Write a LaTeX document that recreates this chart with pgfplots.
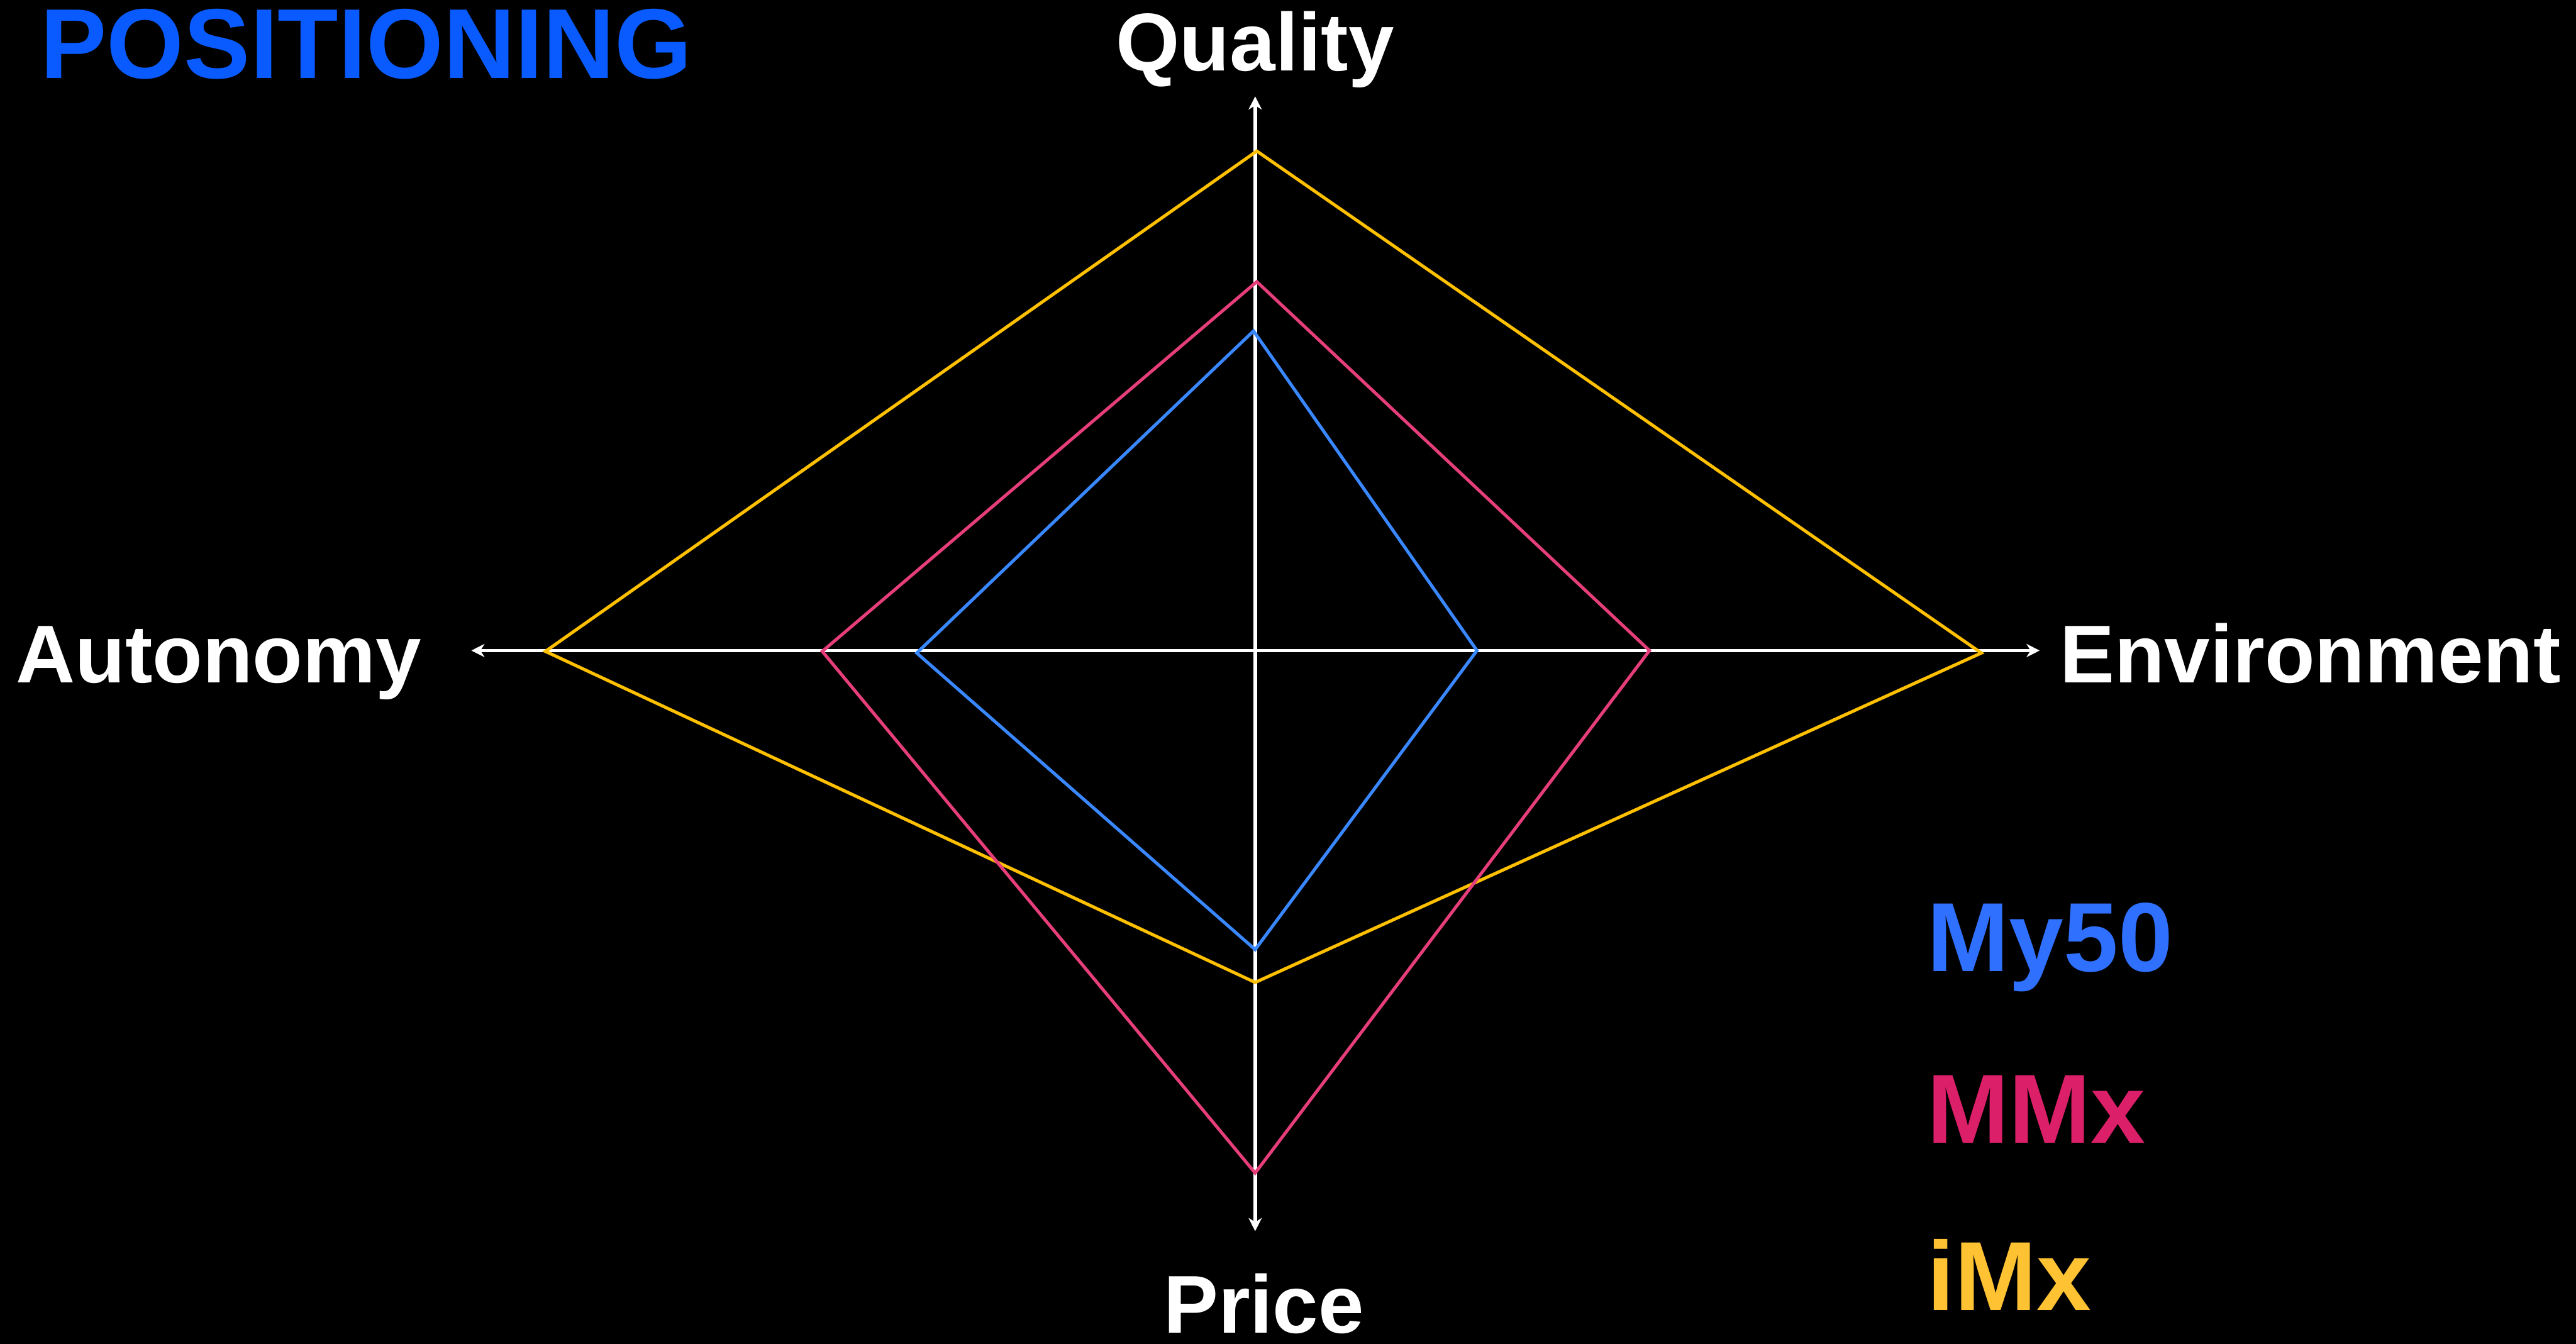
\documentclass[border=0pt]{standalone}
\usepackage{pgfplots}
\pgfplotsset{compat=1.18}
\usepackage{fontspec}
\setmainfont{Liberation Sans}
\usetikzlibrary{arrows.meta}
\definecolor{titleblue}{HTML}{0A5BFF}
\definecolor{lineyellow}{HTML}{FFC000}
\definecolor{linepink}{HTML}{E63E7A}
\definecolor{lineblue}{HTML}{3A88FF}
\definecolor{txtblue}{HTML}{3070FF}
\definecolor{txtpink}{HTML}{DC1F69}
\definecolor{txtgold}{HTML}{FFC233}
\begin{document}
\begin{tikzpicture}
\fill[black] (0,0) rectangle (156.8mm,81.8mm);
\begin{axis}[at={(0,0)}, anchor=south west,
  scale only axis, width=156.8mm, height=81.8mm,
  xmin=-764, xmax=804, ymin=-422, ymax=396,
  hide axis, clip=false]
% axes with arrows
\addplot[white, line width=0.6pt, -{Stealth[length=0.8mm,width=0.8mm,inset=0.25mm]}] coordinates {(0,0) (0,337.3)};
\addplot[white, line width=0.6pt, -{Stealth[length=0.8mm,width=0.8mm,inset=0.25mm]}] coordinates {(0,0) (0,-353.4)};
\addplot[white, line width=0.6pt, -{Stealth[length=0.8mm,width=0.8mm,inset=0.25mm]}] coordinates {(0,0) (-477.1,0)};
\addplot[white, line width=0.6pt, -{Stealth[length=0.8mm,width=0.8mm,inset=0.25mm]}] coordinates {(0,0) (477.5,0)};
% iMx (yellow): Quality, Environment, Price, Autonomy
\addplot[lineyellow, line width=0.55pt] coordinates {(1,304) (442,-1.5) (0,-202) (-432,-0.5)} -- cycle;
% MMx (pink)
\addplot[linepink, line width=0.55pt] coordinates {(1,224.5) (240,0) (0,-318) (-263.5,-0.5)} -- cycle;
% My50 (blue)
\addplot[lineblue, line width=0.55pt] coordinates {(-1,194.5) (135,0) (0,-182) (-206,-1.5)} -- cycle;
% texts
\node[anchor=base west, inner sep=0, text=titleblue, font=\fontsize{17.2pt}{20pt}\selectfont\bfseries] at (axis cs:-740,348.3) {POSITIONING};
\node[anchor=base west, inner sep=0, text=white, font=\fontsize{14.2pt}{17pt}\selectfont\bfseries] at (axis cs:-85.4,352.9) {Quality};
\node[anchor=base west, inner sep=0, text=white, font=\fontsize{14.2pt}{17pt}\selectfont\bfseries] at (axis cs:-755,-19.4) {Autonomy};
\node[anchor=base west, inner sep=0, text=white, font=\fontsize{14.2pt}{17pt}\selectfont\bfseries] at (axis cs:489,-19.4) {Environment};
\node[anchor=base west, inner sep=0, text=white, font=\fontsize{14.2pt}{17pt}\selectfont\bfseries] at (axis cs:-56.5,-415.5) {Price};
\node[anchor=base west, inner sep=0, text=txtblue, font=\fontsize{17pt}{20pt}\selectfont\bfseries] at (axis cs:408.5,-195.1) {My50};
\node[anchor=base west, inner sep=0, text=txtpink, font=\fontsize{17pt}{20pt}\selectfont\bfseries] at (axis cs:408.5,-299.7) {MMx};
\node[anchor=base west, inner sep=0, text=txtgold, font=\fontsize{17pt}{20pt}\selectfont\bfseries] at (axis cs:408.5,-401.5) {iMx};
\end{axis}
\end{tikzpicture}
\end{document}
